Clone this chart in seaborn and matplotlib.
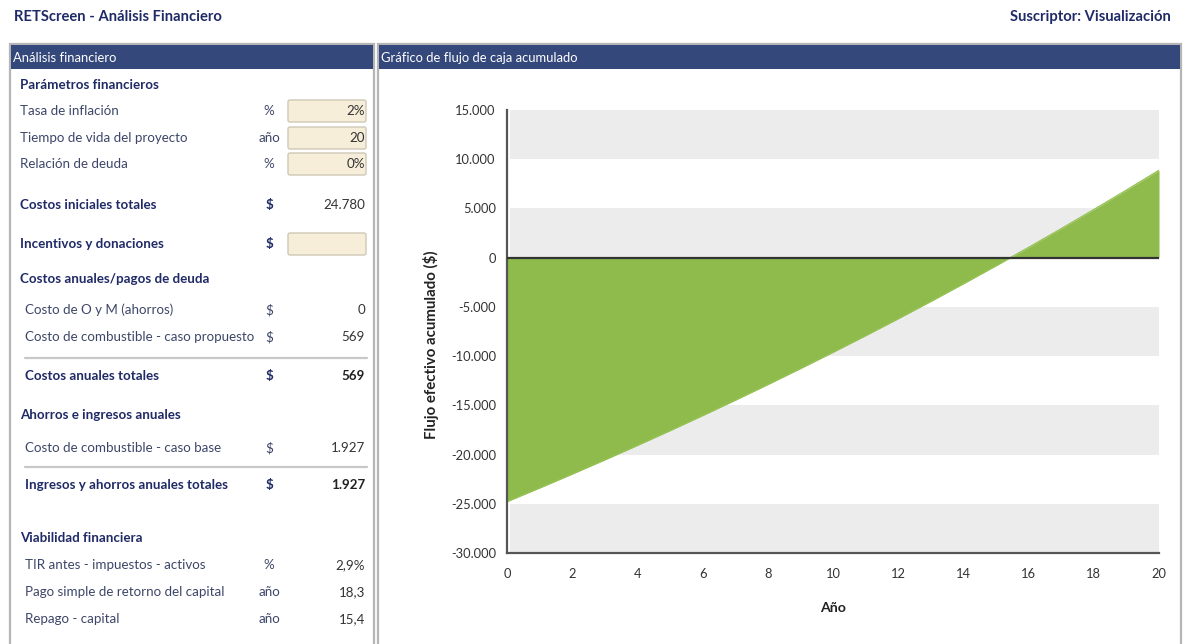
import matplotlib
matplotlib.use("Agg")
import matplotlib.pyplot as plt
from matplotlib.patches import Rectangle, FancyBboxPatch
from matplotlib.ticker import FuncFormatter
import seaborn as sns
import pandas as pd

# ---- cumulative cash flow (years 0..20) ----
anos = [0, 1, 2, 3, 4, 5, 6, 7, 8, 9, 10, 11, 12, 13, 14, 15, 16, 17, 18, 19, 20]
flujo_acumulado = [-24780, -23395, -21982, -20541, -19071, -17572, -16042, -14482,
                   -12891, -11268, -9613, -7924, -6202, -4445, -2653, -826,
                   1039, 2940, 4880, 6858, 8876]
y_ticks = [15000, 10000, 5000, 0, -5000, -10000, -15000, -20000, -25000, -30000]
x_ticks = [0, 2, 4, 6, 8, 10, 12, 14, 16, 18, 20]

# ---- financial summary table ----
tabla = [
    # (kind, label, unit, value)
    ("head", "Parámetros financieros", "", ""),
    ("input", "Tasa de inflación", "%", "2%"),
    ("input", "Tiempo de vida del proyecto", "año", "20"),
    ("input", "Relación de deuda", "%", "0%"),
    ("bold", "Costos iniciales totales", "$", "24.780"),
    ("boldinput", "Incentivos y donaciones", "$", ""),
    ("head", "Costos anuales/pagos de deuda", "", ""),
    ("row", "Costo de O y M (ahorros)", "$", "0"),
    ("row", "Costo de combustible - caso propuesto", "$", "569"),
    ("total", "Costos anuales totales", "$", "569"),
    ("head", "Ahorros e ingresos anuales", "", ""),
    ("row", "Costo de combustible - caso base", "$", "1.927"),
    ("total", "Ingresos y ahorros anuales totales", "$", "1.927"),
    ("head", "Viabilidad financiera", "", ""),
    ("row", "TIR antes - impuestos - activos", "%", "2,9%"),
    ("row", "Pago simple de retorno del capital", "año", "18,3"),
    ("row", "Repago - capital", "año", "15,4"),
]
fila_y = [85, 111, 138, 164, 205, 244, 279, 310, 337, 376, 415, 448, 485, 538, 565, 592, 619]

sns.set_style("white")
plt.rcParams["font.family"] = ["Lato", "DejaVu Sans"]

W, H = 1189, 644
fig = plt.figure(figsize=(W / 100, H / 100), dpi=100)

NAVY = "#1f2a66"
HEADER = "#34487c"
LABEL = "#3d4668"
BORDER = "#b5b5b5"
FS = 9.6

# overlay canvas in pixel coordinates
bg = fig.add_axes([0, 0, 1, 1], zorder=0)
bg.set_xlim(0, W)
bg.set_ylim(H, 0)
bg.axis("off")

bg.text(14, 17, "RETScreen - Análisis Financiero", fontsize=10.6, fontweight="bold",
        color=NAVY, va="center", ha="left")
bg.text(1171, 17, "Suscriptor: Visualización", fontsize=10.6, fontweight="bold",
        color=NAVY, va="center", ha="right")

# panels
for x0, x1, title in [(10, 374, "Análisis financiero"),
                      (378, 1181, "Gráfico de flujo de caja acumulado")]:
    bg.add_patch(Rectangle((x0, 44), x1 - x0, 640, facecolor="white",
                           edgecolor=BORDER, lw=1.6))
    bg.add_patch(Rectangle((x0 + 1, 45), x1 - x0 - 2, 24, facecolor=HEADER,
                           edgecolor="none"))
    bg.text(x0 + 3, 58, title, fontsize=9.4, color="white", va="center", ha="left")

# table rows
for (kind, label, unit, value), y in zip(tabla, fila_y):
    if kind == "head":
        bg.text(20, y, label, fontsize=FS, fontweight="bold", color=NAVY, va="center")
        continue
    bold = kind in ("bold", "boldinput", "total")
    indent = 20 if kind in ("input", "bold", "boldinput") else 25
    bg.text(indent, y, label, fontsize=FS, fontweight="bold" if bold else "normal",
            color=NAVY if bold else LABEL, va="center")
    bg.text(269, y, unit, fontsize=FS, fontweight="bold" if bold else "normal",
            color=NAVY if bold else LABEL, va="center", ha="center")
    if kind in ("input", "boldinput"):
        bg.add_patch(FancyBboxPatch((288, y - 11), 78, 22,
                                    boxstyle="round,pad=0,rounding_size=2",
                                    facecolor="#f6eed9", edgecolor="#cfc8b5", lw=1.0))
    if kind == "total":
        bg.plot([25, 367], [y - 18, y - 18], color="#c8c8c8", lw=1.6)
    bg.text(365, y, value, fontsize=FS, fontweight="bold" if kind == "total" else "normal",
            color="#222222" if kind == "total" else "#333333", va="center", ha="right")

# ---- cumulative cash flow chart ----
left, right, top, bottom = 507, 1159, 110, 553
ax = fig.add_axes([left / W, 1 - bottom / H, (right - left) / W, (bottom - top) / H],
                  zorder=2)
ax.patch.set_alpha(0)

df = pd.DataFrame({"Año": anos, "Flujo": flujo_acumulado})

# alternating horizontal bands
for lo in range(-30000, 15000, 10000):
    ax.axhspan(lo, lo + 5000, xmin=0.004, xmax=1, color="#ececec", lw=0, zorder=0)

ax.fill_between(df["Año"], 0, df["Flujo"], color="#8fba4c", lw=0, zorder=1)
sns.lineplot(data=df, x="Año", y="Flujo", ax=ax, color="#96c255", lw=1.0, zorder=2)
ax.axhline(0, color="#333333", lw=1.6, zorder=3)

ax.set_xlim(0, 20)
ax.set_ylim(-30000, 15000)
ax.set_xticks(x_ticks)
ax.set_yticks(y_ticks)
ax.yaxis.set_major_formatter(FuncFormatter(lambda v, p: f"{int(v):,}".replace(",", ".")))

for side in ("top", "right"):
    ax.spines[side].set_visible(False)
for side in ("left", "bottom"):
    ax.spines[side].set_color("#555555")
    ax.spines[side].set_linewidth(1.6)
ax.tick_params(axis="both", direction="out", length=6, width=1.6, color="#555555",
               labelsize=9.3, labelcolor="#333333", pad=2)
ax.tick_params(axis="x", pad=5)

ax.set_xlabel("Año", fontsize=10.2, fontweight="bold", color="#222222", labelpad=16)
ax.set_ylabel("Flujo efectivo acumulado ($)", fontsize=10.8, fontweight="bold",
              color="#222222")
ax.yaxis.set_label_coords(-0.104, 0.47)

fig.savefig("out.png", dpi=100)
